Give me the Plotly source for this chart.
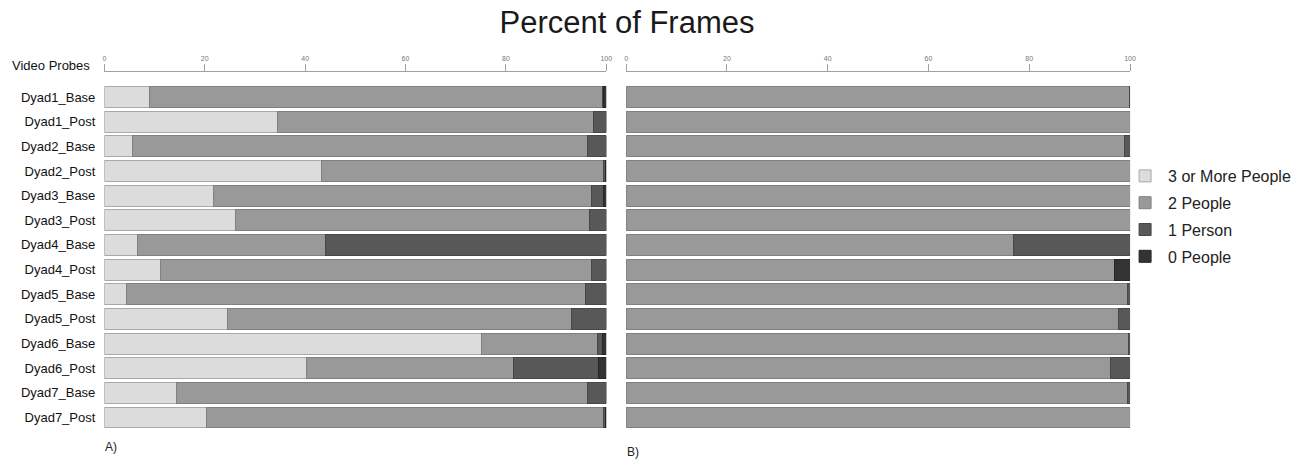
import plotly.graph_objects as go

W, H = 1303, 459

categories = ["Dyad1_Base", "Dyad1_Post", "Dyad2_Base", "Dyad2_Post", "Dyad3_Base", "Dyad3_Post",
              "Dyad4_Base", "Dyad4_Post", "Dyad5_Base", "Dyad5_Post", "Dyad6_Base", "Dyad6_Post",
              "Dyad7_Base", "Dyad7_Post"]

series_names = ["3 or More People", "2 People", "1 Person", "0 People"]

# Panel A
a_three_plus = [9.0, 34.5, 5.6, 43.3, 21.8, 26.2, 6.6, 11.1, 4.4, 24.6, 75.2, 40.2, 14.3, 20.4]
a_two = [90.2, 62.9, 90.7, 56.2, 75.2, 70.4, 37.5, 85.9, 91.5, 68.4, 23.1, 41.4, 82.0, 79.1]
a_one = [0.3, 2.6, 3.7, 0.3, 2.5, 3.4, 55.9, 3.0, 4.1, 7.0, 1.0, 16.8, 3.7, 0.3]
a_zero = [0.5, 0, 0, 0.2, 0.5, 0, 0, 0, 0, 0, 0.7, 1.6, 0, 0.2]

# Panel B
b_three_plus = [0, 0, 0, 0, 0, 0, 0, 0, 0, 0, 0, 0, 0, 0]
b_two = [99.8, 100, 98.9, 100, 100, 100, 76.8, 96.9, 99.4, 97.8, 99.6, 96.2, 99.4, 100]
b_one = [0.2, 0, 1.1, 0, 0, 0, 23.2, 0, 0.6, 2.2, 0.4, 3.8, 0.6, 0]
b_zero = [0, 0, 0, 0, 0, 0, 0, 3.1, 0, 0, 0, 0, 0, 0]

x_ticks = [0, 20, 40, 60, 80, 100]

fill_colors = ["#dcdcdc", "#999999", "#585858", "#333333"]
line_colors = ["#a9a9a9", "#808080", "#474747", "#262626"]

sans = "Liberation Sans, Arial, sans-serif"

fig = go.Figure()
panel_a = [a_three_plus, a_two, a_one, a_zero]
panel_b = [b_three_plus, b_two, b_one, b_zero]
for i, name in enumerate(series_names):
    fig.add_trace(go.Bar(
        y=categories, x=panel_a[i], orientation="h", name=name,
        marker=dict(color=fill_colors[i], line=dict(color=line_colors[i], width=1)),
        xaxis="x", yaxis="y", legendgroup=name, showlegend=True))
for i, name in enumerate(series_names):
    fig.add_trace(go.Bar(
        y=categories, x=panel_b[i], orientation="h", name=name,
        marker=dict(color=fill_colors[i], line=dict(color=line_colors[i], width=1)),
        xaxis="x2", yaxis="y2", legendgroup=name, showlegend=False))

def px_x(p):
    return p / W

def px_y(p):
    return 1 - p / H

y_top, y_bot = 72, 430
yrange = [13.507, -1.014]

axis_common = dict(
    range=[0, 100], side="top", tickvals=x_ticks, ticktext=[str(t) for t in x_ticks],
    showline=True, linecolor="#a0a0a0", linewidth=1, ticks="outside", ticklen=7,
    tickcolor="#a0a0a0", tickfont=dict(size=7, color="#777777", family=sans),
    showgrid=False, zeroline=False, fixedrange=True)

fig.update_layout(
    width=W, height=H,
    margin=dict(l=0, r=0, t=0, b=0),
    paper_bgcolor="white", plot_bgcolor="white",
    barmode="stack", bargap=0.15,
    showlegend=True,
    xaxis=dict(domain=[px_x(103), px_x(608)], anchor="y", **axis_common),
    xaxis2=dict(domain=[px_x(628), px_x(1135)], anchor="y2", **axis_common),
    yaxis=dict(domain=[px_y(y_bot), px_y(y_top)], anchor="x", range=yrange, type="category",
               showline=False, ticks="", showgrid=False, zeroline=False,
               tickfont=dict(size=13, color="#111111", family=sans), ticklabelstandoff=8),
    yaxis2=dict(domain=[px_y(y_bot), px_y(y_top)], anchor="x2", range=yrange, type="category",
                showline=False, ticks="", showgrid=False, zeroline=False, showticklabels=False),
    legend=dict(x=px_x(1127), y=px_y(159), xanchor="left", yanchor="top",
                traceorder="grouped", tracegroupgap=3, itemwidth=36,
                font=dict(size=16, color="#222222", family=sans),
                bgcolor="rgba(0,0,0,0)"),
    title=dict(text="Percent of Frames", x=627 / W, xanchor="center",
               y=1 - 22 / H, yanchor="middle", yref="container",
               font=dict(size=31, color="#1a1a1a", family=sans)),
    annotations=[
        dict(text="Video Probes", x=px_x(91), y=px_y(66), xref="paper", yref="paper",
             xanchor="right", yanchor="middle", showarrow=False,
             font=dict(size=13, color="#111111", family=sans)),
        dict(text="A)", x=px_x(102), y=px_y(447), xref="paper", yref="paper",
             xanchor="left", yanchor="middle", showarrow=False,
             font=dict(size=12, color="#222222", family=sans)),
        dict(text="B)", x=px_x(627), y=px_y(452), xref="paper", yref="paper",
             xanchor="left", yanchor="middle", showarrow=False,
             font=dict(size=12, color="#222222", family=sans)),
    ],
)

fig.write_html("out.html", config={"displayModeBar": False},
               post_script="document.body.style.margin='0';document.body.style.overflow='hidden';")
